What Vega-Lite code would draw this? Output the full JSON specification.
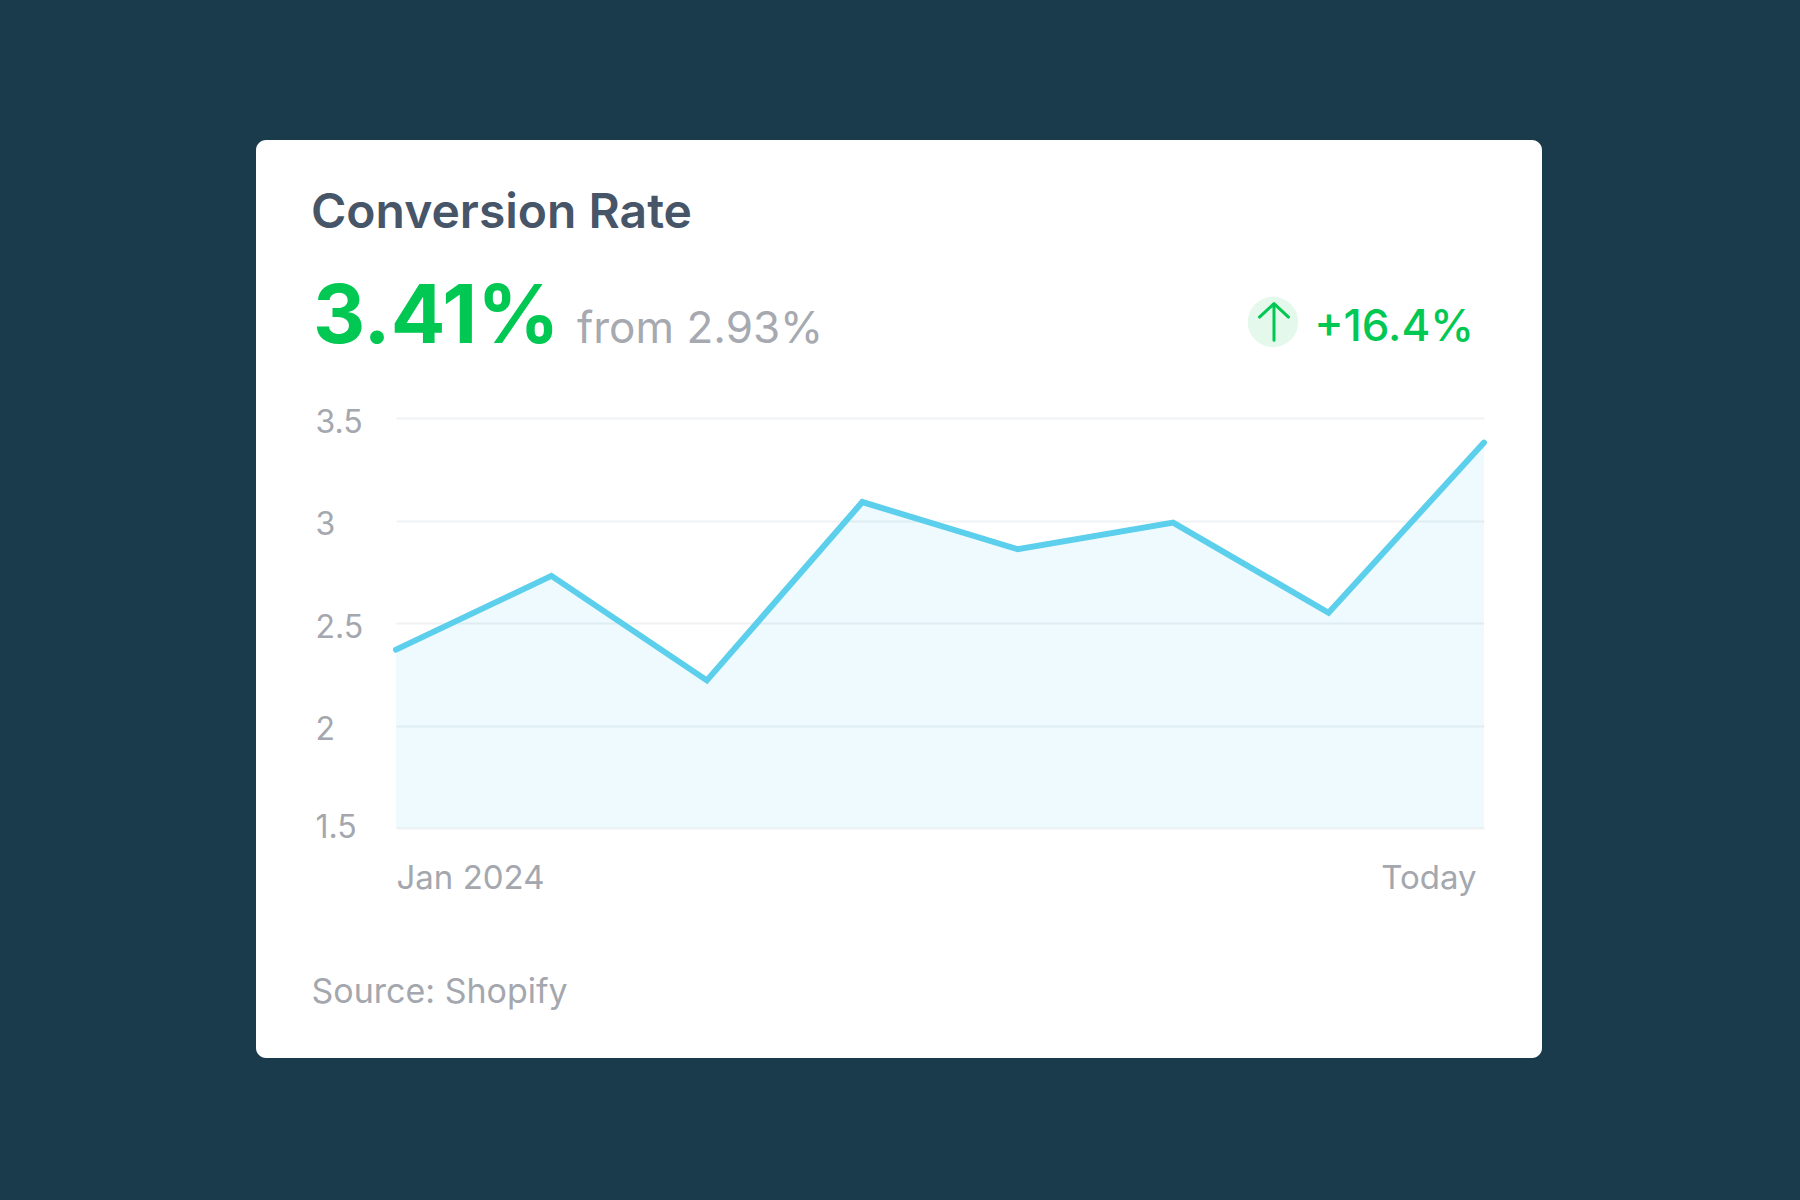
{
  "$schema": "https://vega.github.io/schema/vega-lite/v6.json",
  "description": "Conversion rate KPI card with area line chart.",
  "autosize": "none",
  "width": 1286,
  "height": 918,
  "padding": {"left": 256, "top": 140, "right": 258, "bottom": 142},
  "background": "#1a3b4c",
  "title": {
    "text": "Conversion Rate",
    "anchor": "start",
    "frame": "group",
    "offset": -136,
    "dx": 55,
    "baseline": "alphabetic",
    "font": "Inter",
    "fontSize": 48,
    "fontWeight": 600,
    "color": "#475569"
  },
  "datasets": {
    "rate": [
      {"idx": 0, "rate": 2.37},
      {"idx": 1, "rate": 2.73},
      {"idx": 2, "rate": 2.22},
      {"idx": 3, "rate": 3.09},
      {"idx": 4, "rate": 2.86},
      {"idx": 5, "rate": 2.99},
      {"idx": 6, "rate": 2.55},
      {"idx": 7, "rate": 3.38}
    ],
    "kpi": [
      {"current": "3.41%", "previous": "from 2.93%", "change": "+16.4%"}
    ]
  },
  "layer": [
    {
      "data": {"name": "rate"},
      "mark": {"type": "area", "color": "#5bcfeb", "fillOpacity": 0.1},
      "encoding": {
        "x": {
          "field": "idx",
          "type": "quantitative",
          "scale": {"domain": [0, 7], "range": [140, 1228], "nice": false, "zero": false},
          "axis": {
            "values": [0, 7],
            "labelExpr": "datum.value == 0 ? 'Jan 2024' : 'Today'",
            "labelAlign": {"condition": {"test": "datum.value == 0", "value": "left"}, "value": "right"},
            "labelOffset": {"condition": {"test": "datum.value == 0", "value": 0}, "value": -8},
            "labelBaseline": "alphabetic",
            "labelPadding": 0,
            "labelFont": "Inter",
            "labelFontSize": 33,
            "labelColor": "#a4a7ae",
            "labelOverlap": false,
            "labelBound": false,
            "domain": false,
            "ticks": false,
            "tickSize": 0,
            "grid": false,
            "offset": -170,
            "title": "Source: Shopify",
            "titleAnchor": "start",
            "titleAlign": "left",
            "titleBaseline": "alphabetic",
            "titleX": 55,
            "titleY": 114,
            "titleFont": "Inter",
            "titleFontSize": 34,
            "titleFontWeight": 400,
            "titleColor": "#a4a7ae"
          }
        },
        "y": {
          "field": "rate",
          "type": "quantitative",
          "scale": {"domain": [1.5, 3.5], "range": [688, 278], "nice": false, "zero": false},
          "axis": {
            "values": [1.5, 2, 2.5, 3, 3.5],
            "format": "~g",
            "labelAlign": "left",
            "labelBaseline": "alphabetic",
            "labelOffset": {"condition": {"test": "datum.value == 1.5", "value": 9}, "value": 14},
            "labelPadding": 0,
            "labelFont": "Inter",
            "labelFontSize": 32,
            "labelColor": "#a4a7ae",
            "labelOverlap": false,
            "labelBound": false,
            "domain": false,
            "ticks": false,
            "tickSize": 0,
            "offset": -59,
            "title": null,
            "grid": true,
            "gridColor": "#eff1f3",
            "gridWidth": 2
          }
        },
        "y2": {"datum": 1.5}
      }
    },
    {
      "data": {"name": "rate"},
      "mark": {"type": "line", "color": "#5bcfeb", "strokeWidth": 6, "strokeCap": "round", "strokeJoin": "miter"},
      "encoding": {
        "x": {"field": "idx", "type": "quantitative"},
        "y": {"field": "rate", "type": "quantitative"}
      }
    },
    {
      "data": {"name": "kpi"},
      "mark": {"type": "text", "align": "left", "baseline": "alphabetic", "font": "Inter", "fontSize": 81, "fontWeight": 700, "color": "#00c853", "dx": -83, "dy": -75},
      "encoding": {
        "x": {"datum": 0},
        "y": {"datum": 3.5},
        "text": {"field": "current"}
      }
    },
    {
      "data": {"name": "kpi"},
      "mark": {"type": "text", "align": "left", "baseline": "alphabetic", "font": "Inter", "fontSize": 44, "fontWeight": 400, "color": "#a6a9b0", "dx": 181, "dy": -75},
      "encoding": {
        "x": {"datum": 0},
        "y": {"datum": 3.5},
        "text": {"field": "previous"}
      }
    },
    {
      "data": {"name": "kpi"},
      "mark": {"type": "text", "align": "right", "baseline": "alphabetic", "font": "Inter", "fontSize": 44, "fontWeight": 500, "color": "#00c853", "dx": -10, "dy": -77},
      "encoding": {
        "x": {"datum": 7},
        "y": {"datum": 3.5},
        "text": {"field": "change"}
      }
    },
    {
      "data": {"name": "kpi"},
      "mark": {"type": "point", "shape": "circle", "filled": true, "color": "#e4f8ec", "opacity": 1, "size": 2552, "xOffset": -211, "yOffset": -96},
      "encoding": {
        "x": {"datum": 7},
        "y": {"datum": 3.5}
      }
    },
    {
      "data": {"name": "kpi"},
      "mark": {"type": "point", "shape": "M0,1V-1M-0.79,-0.27L0,-1L0.79,-0.27", "filled": false, "stroke": "#00c853", "strokeWidth": 3, "strokeCap": "round", "strokeJoin": "round", "opacity": 1, "size": 1347, "xOffset": -210, "yOffset": -96},
      "encoding": {
        "x": {"datum": 7},
        "y": {"datum": 3.5}
      }
    }
  ],
  "config": {
    "font": "Inter",
    "view": {"fill": "#ffffff", "stroke": null, "cornerRadius": 10}
  }
}
